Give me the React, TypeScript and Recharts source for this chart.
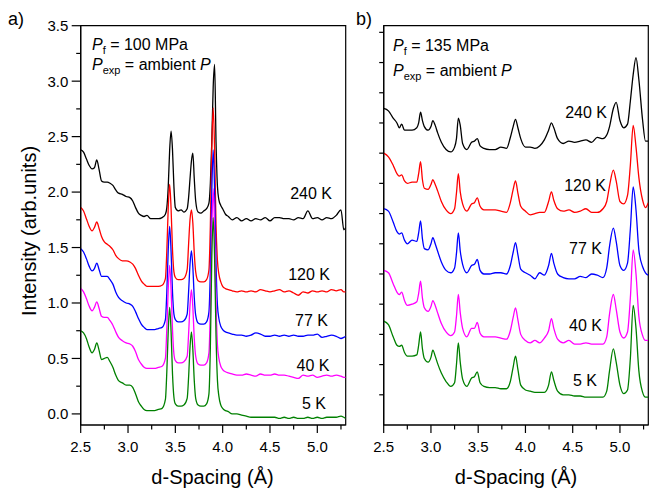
import React from 'react';
import { LineChart, Line, XAxis, YAxis, ReferenceArea } from 'recharts';

const FONT = '"Liberation Sans", Arial, Helvetica, sans-serif';

// ---------- Panel a: P_f = 100 MPa ----------
const dA = [
  2.5, 2.53, 2.56, 2.59, 2.62, 2.645, 2.67, 2.695, 2.72, 2.75,
  2.78, 2.81, 2.84, 2.87, 2.9, 2.94, 2.98, 3.02, 3.05, 3.08,
  3.11, 3.14, 3.17, 3.2, 3.24, 3.28, 3.32, 3.36, 3.395, 3.41,
  3.425, 3.44, 3.455, 3.47, 3.485, 3.5, 3.53, 3.56, 3.59, 3.625,
  3.64, 3.655, 3.67, 3.685, 3.7, 3.715, 3.74, 3.77, 3.8, 3.83,
  3.855, 3.87, 3.885, 3.9, 3.915, 3.93, 3.945, 3.96, 3.98, 4.0,
  4.03, 4.06, 4.1, 4.15, 4.2, 4.25, 4.3, 4.35, 4.4, 4.45,
  4.5, 4.55, 4.6, 4.65, 4.7, 4.75, 4.8, 4.85, 4.9, 4.95,
  5.0, 5.05, 5.1, 5.15, 5.2, 5.25, 5.28, 5.3,
];
const a240 = [
  2.38, 2.36, 2.30, 2.24, 2.21, 2.22, 2.29, 2.20, 2.10, 2.09,
  2.09, 2.08, 2.06, 2.02, 1.99, 1.98, 1.96, 1.95, 1.92, 1.86,
  1.81, 1.79, 1.78, 1.79, 1.76, 1.76, 1.76, 1.77, 1.80, 1.86,
  2.05, 2.38, 2.55, 2.38, 2.05, 1.86, 1.83, 1.84, 1.82, 1.85,
  1.95, 2.12, 2.28, 2.35, 2.12, 1.92, 1.82, 1.81, 1.83, 1.85,
  1.90, 2.08, 2.45, 2.95, 3.15, 2.45, 2.05, 1.93, 1.88, 1.85,
  1.80, 1.78, 1.75, 1.77, 1.74, 1.76, 1.74, 1.76, 1.75, 1.77,
  1.74, 1.77, 1.77, 1.76, 1.76, 1.75, 1.77, 1.76, 1.83, 1.76,
  1.77, 1.75, 1.77, 1.76, 1.79, 1.84, 1.66, 1.68,
];
const a120 = [
  1.86, 1.83, 1.76, 1.69, 1.65, 1.68, 1.73, 1.67, 1.60, 1.55,
  1.53, 1.51, 1.48, 1.43, 1.40, 1.38, 1.38, 1.37, 1.35, 1.31,
  1.25, 1.20, 1.17, 1.15, 1.15, 1.15, 1.15, 1.16, 1.22, 1.47,
  1.86, 2.07, 1.85, 1.48, 1.28, 1.23, 1.21, 1.21, 1.22, 1.30,
  1.53, 1.75, 1.84, 1.72, 1.45, 1.28, 1.20, 1.19, 1.19, 1.21,
  1.30, 1.70, 2.40, 2.76, 2.38, 1.70, 1.38, 1.26, 1.19, 1.15,
  1.13, 1.12, 1.11, 1.10, 1.11, 1.10, 1.11, 1.10, 1.12, 1.11,
  1.10, 1.11, 1.12, 1.10, 1.11, 1.09, 1.07, 1.10, 1.09, 1.11,
  1.10, 1.11, 1.10, 1.12, 1.11, 1.12, 1.10, 1.10,
];
const a77 = [
  1.49, 1.46, 1.40, 1.33, 1.29, 1.31, 1.36, 1.30, 1.24, 1.24,
  1.24, 1.21, 1.17, 1.10, 1.05, 1.02, 1.00, 0.99, 0.97, 0.92,
  0.86, 0.81, 0.78, 0.76, 0.76, 0.76, 0.77, 0.78, 0.85, 1.10,
  1.48, 1.69, 1.46, 1.10, 0.90, 0.85, 0.83, 0.83, 0.84, 0.90,
  1.10, 1.35, 1.47, 1.32, 1.05, 0.89, 0.82, 0.81, 0.81, 0.83,
  0.92, 1.30, 2.00, 2.38, 2.00, 1.35, 0.98, 0.86, 0.79, 0.76,
  0.74, 0.73, 0.72, 0.71, 0.71, 0.70, 0.71, 0.73, 0.72, 0.70,
  0.70, 0.71, 0.70, 0.71, 0.70, 0.71, 0.70, 0.70, 0.71, 0.71,
  0.72, 0.69, 0.70, 0.71, 0.70, 0.68, 0.69, 0.70,
];
const a40 = [
  1.13, 1.10, 1.04, 0.97, 0.93, 0.96, 1.01, 0.95, 0.88, 0.87,
  0.87, 0.84, 0.80, 0.74, 0.69, 0.66, 0.64, 0.63, 0.61, 0.56,
  0.49, 0.45, 0.42, 0.41, 0.41, 0.41, 0.42, 0.43, 0.50, 0.77,
  1.13, 1.34, 1.12, 0.76, 0.54, 0.48, 0.46, 0.46, 0.47, 0.52,
  0.72, 0.98, 1.12, 0.96, 0.68, 0.52, 0.45, 0.44, 0.44, 0.46,
  0.55, 0.95, 1.65, 2.03, 1.65, 1.00, 0.62, 0.50, 0.43, 0.40,
  0.38, 0.37, 0.36, 0.35, 0.35, 0.36, 0.35, 0.34, 0.36, 0.35,
  0.35, 0.36, 0.35, 0.35, 0.34, 0.33, 0.32, 0.35, 0.34, 0.35,
  0.33, 0.34, 0.35, 0.34, 0.35, 0.34, 0.33, 0.33,
];
const a5 = [
  0.75, 0.73, 0.68, 0.60, 0.55, 0.58, 0.64, 0.57, 0.49, 0.50,
  0.51, 0.47, 0.42, 0.35, 0.30, 0.28, 0.26, 0.26, 0.24, 0.18,
  0.11, 0.07, 0.04, 0.03, 0.03, 0.03, 0.04, 0.05, 0.13, 0.38,
  0.75, 0.96, 0.74, 0.36, 0.15, 0.09, 0.07, 0.07, 0.08, 0.14,
  0.33, 0.60, 0.74, 0.58, 0.30, 0.14, 0.08, 0.07, 0.07, 0.09,
  0.18, 0.60, 1.40, 1.77, 1.40, 0.70, 0.30, 0.16, 0.08, 0.05,
  0.03, 0.02, 0.00, 0.00, -0.01, -0.02, -0.03, -0.03, -0.03, -0.03,
  -0.03, -0.03, -0.04, -0.03, -0.04, -0.03, -0.04, -0.04, -0.03, -0.04,
  -0.03, -0.04, -0.03, -0.03, -0.03, -0.02, -0.03, -0.04,
];

// ---------- Panel b: P_f = 135 MPa ----------
const dB = [
  2.5, 2.55, 2.6, 2.64, 2.665, 2.69, 2.72, 2.75, 2.8, 2.85,
  2.87, 2.89, 2.91, 2.93, 2.97, 3.0, 3.02, 3.045, 3.07, 3.11,
  3.16, 3.21, 3.25, 3.27, 3.29, 3.31, 3.335, 3.38, 3.43, 3.46,
  3.49, 3.52, 3.56, 3.62, 3.68, 3.74, 3.8, 3.84, 3.87, 3.895,
  3.92, 3.95, 4.0, 4.05, 4.1, 4.15, 4.2, 4.245, 4.275, 4.3,
  4.34, 4.4, 4.46, 4.52, 4.58, 4.64, 4.7, 4.76, 4.82, 4.86,
  4.89, 4.93, 4.96, 5.0, 5.04, 5.08, 5.11, 5.14, 5.17, 5.2,
  5.24, 5.27, 5.3,
];
const b240 = [
  2.62, 2.60, 2.54, 2.50, 2.46, 2.49, 2.44, 2.44, 2.44, 2.46,
  2.50, 2.59, 2.52, 2.47, 2.44, 2.47, 2.52, 2.48, 2.42, 2.34,
  2.28, 2.26, 2.30, 2.37, 2.54, 2.48, 2.33, 2.28, 2.34, 2.35,
  2.37, 2.31, 2.29, 2.28, 2.28, 2.30, 2.29, 2.38, 2.47, 2.53,
  2.46, 2.37, 2.30, 2.30, 2.29, 2.31, 2.36, 2.44, 2.50, 2.46,
  2.37, 2.33, 2.35, 2.34, 2.35, 2.36, 2.34, 2.38, 2.37, 2.40,
  2.47, 2.62, 2.67, 2.52, 2.46, 2.49, 2.68, 2.90, 3.04, 2.86,
  2.52, 2.35, 2.35,
];
const b120 = [
  2.25, 2.22, 2.15, 2.08, 2.06, 2.07, 2.02, 2.00, 2.01, 2.01,
  2.08, 2.18, 2.03, 1.96, 1.95, 1.99, 2.03, 1.99, 1.94, 1.85,
  1.78, 1.75, 1.79, 1.92, 2.08, 1.93, 1.83, 1.77, 1.83, 1.84,
  1.88, 1.81, 1.78, 1.78, 1.78, 1.77, 1.76, 1.84, 1.95, 2.02,
  1.92, 1.81, 1.77, 1.74, 1.75, 1.76, 1.76, 1.85, 1.93, 1.86,
  1.79, 1.77, 1.78, 1.76, 1.77, 1.79, 1.76, 1.76, 1.79, 1.85,
  1.98, 2.11, 2.02, 1.85, 1.83, 1.90, 2.15, 2.48, 2.30, 2.05,
  1.86, 1.80, 1.84,
];
const b77 = [
  1.79, 1.77, 1.68, 1.60, 1.58, 1.59, 1.53, 1.50, 1.53, 1.52,
  1.59, 1.69, 1.54, 1.46, 1.45, 1.50, 1.55, 1.50, 1.44, 1.35,
  1.28, 1.26, 1.30, 1.42, 1.59, 1.44, 1.33, 1.26, 1.32, 1.33,
  1.37, 1.28, 1.25, 1.25, 1.26, 1.26, 1.25, 1.32, 1.43, 1.51,
  1.41, 1.29, 1.26, 1.24, 1.21, 1.26, 1.24, 1.32, 1.42, 1.34,
  1.25, 1.22, 1.21, 1.21, 1.23, 1.22, 1.25, 1.24, 1.22, 1.30,
  1.48, 1.63, 1.52, 1.32, 1.28, 1.34, 1.62, 1.97, 1.78, 1.45,
  1.31, 1.26, 1.24,
];
const b40 = [
  1.28, 1.26, 1.17, 1.10, 1.08, 1.10, 1.03, 0.99, 1.00, 1.02,
  1.09, 1.19, 1.05, 0.97, 0.94, 0.98, 1.03, 0.99, 0.93, 0.84,
  0.77, 0.74, 0.77, 0.90, 1.08, 0.93, 0.80, 0.73, 0.80, 0.80,
  0.85, 0.76, 0.73, 0.73, 0.73, 0.72, 0.71, 0.78, 0.89, 0.97,
  0.87, 0.75, 0.70, 0.68, 0.70, 0.68, 0.72, 0.78, 0.88, 0.80,
  0.71, 0.68, 0.70, 0.67, 0.67, 0.68, 0.67, 0.67, 0.67, 0.73,
  0.92, 1.08, 0.96, 0.77, 0.72, 0.77, 1.05, 1.45, 1.25, 0.90,
  0.74, 0.70, 0.70,
];
const b5 = [
  0.86, 0.83, 0.73, 0.66, 0.65, 0.66, 0.60, 0.57, 0.57, 0.58,
  0.66, 0.77, 0.63, 0.55, 0.52, 0.56, 0.62, 0.57, 0.51, 0.43,
  0.36, 0.32, 0.35, 0.50, 0.68, 0.52, 0.38, 0.32, 0.39, 0.40,
  0.44, 0.35, 0.32, 0.31, 0.31, 0.30, 0.30, 0.36, 0.48, 0.57,
  0.46, 0.33, 0.29, 0.28, 0.27, 0.27, 0.27, 0.33, 0.44, 0.37,
  0.28, 0.25, 0.25, 0.24, 0.24, 0.23, 0.23, 0.23, 0.23, 0.28,
  0.45, 0.63, 0.52, 0.33, 0.26, 0.29, 0.55, 0.99, 0.80, 0.45,
  0.27, 0.23, 0.23,
];

// ---------- Axes ----------
const xTicks = [2.5, 2.75, 3.0, 3.25, 3.5, 3.75, 4.0, 4.25, 4.5, 4.75, 5.0, 5.25];
const yTicksA = [0, 0.25, 0.5, 0.75, 1.0, 1.25, 1.5, 1.75, 2.0, 2.25, 2.5, 2.75, 3.0, 3.25, 3.5];
const yTicksB = [0.25, 0.5, 0.75, 1.0, 1.25, 1.5, 1.75, 2.0, 2.25, 2.5, 2.75, 3.0, 3.25];

const seriesKeys = ['k240', 'k120', 'k77', 'k40', 'k5'];
const seriesColors = ['#000000', '#ff0000', '#0000ff', '#ff00ff', '#008000'];

const rowsA = dA.map((x, i) => ({ x, k240: a240[i], k120: a120[i], k77: a77[i], k40: a40[i], k5: a5[i] }));
const rowsB = dB.map((x, i) => ({ x, k240: b240[i], k120: b120[i], k77: b77[i], k40: b40[i], k5: b5[i] }));

const isMajor = (v: number) => Math.abs(v * 2 - Math.round(v * 2)) < 1e-6;

const XTick = (props: any) => {
  const { x, y, payload } = props;
  const v = payload.value as number;
  const major = isMajor(v);
  return (
    <g>
      <line x1={x} x2={x} y1={y} y2={y + (major ? 8 : 4.5)} stroke="#000" strokeWidth={1.2} />
      {major && (
        <text x={x} y={y + 27.3} textAnchor="middle" fontSize={15} fontFamily={FONT} fill="#000">
          {v.toFixed(1)}
        </text>
      )}
    </g>
  );
};

const YTickA = (props: any) => {
  const { x, y, payload } = props;
  const v = payload.value as number;
  const major = isMajor(v);
  return (
    <g>
      <line x1={x - (major ? 9 : 4.5)} x2={x} y1={y} y2={y} stroke="#000" strokeWidth={1.2} />
      {major && (
        <text x={x - 12.4} y={y + 5.4} textAnchor="end" fontSize={15} fontFamily={FONT} fill="#000">
          {v.toFixed(1)}
        </text>
      )}
    </g>
  );
};

const YTickB = (props: any) => {
  const { x, y } = props;
  return <line x1={x - 4.5} x2={x} y1={y} y2={y} stroke="#000" strokeWidth={1.2} />;
};

const axisLine = { stroke: '#000', strokeWidth: 1.2 };

function Panel(props: {
  rows: any[];
  width: number;
  yWidth: number;
  right: number;
  yDomain: [number, number];
  yTicks: number[];
  yTick: any;
}) {
  const { rows, width, yWidth, right, yDomain, yTicks, yTick } = props;
  return (
    <LineChart
      width={width}
      height={488}
      data={rows}
      margin={{ top: 25.7, right, bottom: 0, left: 0 }}
    >
      <XAxis
        dataKey="x"
        type="number"
        domain={[2.5, 5.3]}
        allowDataOverflow
        ticks={xTicks}
        interval={0}
        height={63}
        tickSize={0}
        tickMargin={0}
        tickLine={false}
        axisLine={axisLine}
        tick={XTick}
      />
      <YAxis
        type="number"
        domain={yDomain}
        allowDataOverflow
        ticks={yTicks}
        interval={0}
        width={yWidth}
        tickSize={0}
        tickMargin={0}
        tickLine={false}
        axisLine={axisLine}
        tick={yTick}
      />
      {seriesKeys.map((k, i) => (
        <Line
          key={k}
          dataKey={k}
          type="monotone"
          stroke={seriesColors[i]}
          strokeWidth={1.3}
          dot={false}
          activeDot={false}
          isAnimationActive={false}
        />
      ))}
      <ReferenceArea
        x1={2.5}
        x2={5.3}
        y1={yDomain[0]}
        y2={yDomain[1]}
        fill="none"
        fillOpacity={0}
        stroke="#000"
        strokeWidth={1.2}
        ifOverflow="visible"
      />
    </LineChart>
  );
}

const labelsA = [
  { t: '240 K', x: 332, y: 198.7 },
  { t: '120 K', x: 330, y: 280 },
  { t: '77 K', x: 328, y: 325.7 },
  { t: '40 K', x: 329.5, y: 370.7 },
  { t: '5 K', x: 326, y: 409 },
];
const labelsB = [
  { t: '240 K', x: 607, y: 118.2 },
  { t: '120 K', x: 606, y: 190.7 },
  { t: '77 K', x: 602, y: 254 },
  { t: '40 K', x: 602, y: 330.7 },
  { t: '5 K', x: 597, y: 385.7 },
];

function Annot(props: { x: number; y1: number; y2: number; mpa: string }) {
  const { x, y1, y2, mpa } = props;
  return (
    <g fontFamily={FONT} fontSize={16} fill="#000" style={{ whiteSpace: 'pre' }}>
      <text x={x} y={y1}>
        <tspan fontStyle="italic">P</tspan>
        <tspan fontSize={11} dy={4}>f</tspan>
        <tspan dy={-4}>{' = ' + mpa + ' MPa'}</tspan>
      </text>
      <text x={x} y={y2}>
        <tspan fontStyle="italic">P</tspan>
        <tspan fontSize={11} dy={4}>exp</tspan>
        <tspan dy={-4}>{' = ambient '}</tspan>
        <tspan fontStyle="italic">P</tspan>
      </text>
    </g>
  );
}

export default function App() {
  return (
    <div style={{ position: 'absolute', left: 0, top: 0, width: 649, height: 488, background: '#fff', overflow: 'hidden' }}>
      <div style={{ position: 'absolute', left: 0, top: 0 }}>
        <Panel rows={rowsA} width={350} yWidth={80.7} right={4.3} yDomain={[-0.1, 3.5]} yTicks={yTicksA} yTick={YTickA} />
      </div>
      <div style={{ position: 'absolute', left: 330, top: 0 }}>
        <Panel rows={rowsB} width={319} yWidth={53.7} right={0.7} yDomain={[0, 3.305]} yTicks={yTicksB} yTick={YTickB} />
      </div>
      <svg width={649} height={488} style={{ position: 'absolute', left: 0, top: 0, pointerEvents: 'none' }}>
        <text x={8} y={24.5} fontFamily={FONT} fontSize={18} fill="#000">a)</text>
        <text x={356} y={24.5} fontFamily={FONT} fontSize={18} fill="#000">b)</text>
        <Annot x={92} y1={49.5} y2={69.5} mpa="100" />
        <Annot x={393} y1={50.5} y2={76} mpa="135" />
        {labelsA.map((l) => (
          <text key={'a' + l.t} x={l.x} y={l.y} textAnchor="end" fontFamily={FONT} fontSize={16} fill="#000">{l.t}</text>
        ))}
        {labelsB.map((l) => (
          <text key={'b' + l.t} x={l.x} y={l.y} textAnchor="end" fontFamily={FONT} fontSize={16} fill="#000">{l.t}</text>
        ))}
        <text x={212.5} y={484} textAnchor="middle" fontFamily={FONT} fontSize={20} fill="#000">d-Spacing (Å)</text>
        <text x={516} y={484} textAnchor="middle" fontFamily={FONT} fontSize={20} fill="#000">d-Spacing (Å)</text>
        <text transform="translate(36,231) rotate(-90)" textAnchor="middle" fontFamily={FONT} fontSize={20} fill="#000">Intensity (arb.units)</text>
      </svg>
    </div>
  );
}
